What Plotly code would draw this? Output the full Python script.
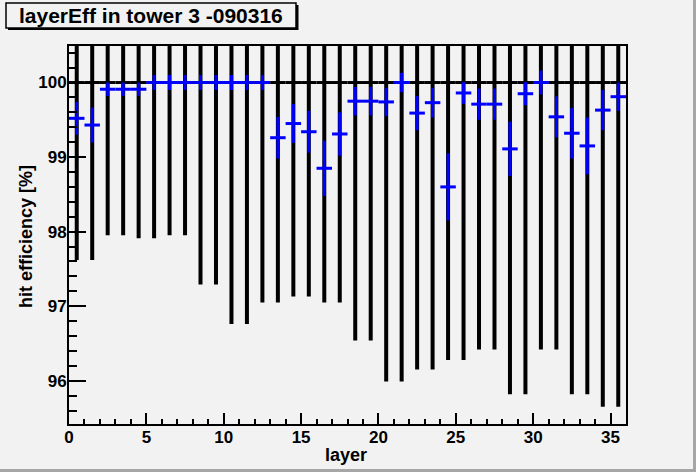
import plotly.graph_objects as go

# layer numbers (bins 0..35), drawn at bin centres
layers = list(range(36))

# black reference histogram: value 100 %, lower end of its error bar
ref_value = [100.0] * 36
ref_low = [97.62, 97.62, 97.95, 97.95, 97.91, 97.91, 97.95, 97.95, 97.29, 97.29,
           96.76, 96.76, 97.05, 97.05, 97.13, 97.13, 97.05, 97.05, 96.54, 96.54,
           95.99, 95.99, 96.15, 96.15, 96.28, 96.28, 96.42, 96.42, 95.82, 95.82,
           96.42, 96.42, 95.82, 95.82, 95.65, 95.65]

# blue measured hit efficiency and its error
eff = [99.52, 99.43, 99.91, 99.91, 99.91, 100.0, 100.0, 100.0, 100.0, 100.0,
       100.0, 100.0, 100.0, 99.26, 99.45, 99.34, 98.85, 99.31, 99.75, 99.75,
       99.74, 100.0, 99.59, 99.73, 98.60, 99.86, 99.71, 99.71, 99.11, 99.85,
       100.0, 99.54, 99.32, 99.15, 99.63, 99.81]
eff_err = [0.22, 0.235, 0.09, 0.09, 0.09, 0.1, 0.1, 0.1, 0.1, 0.1,
           0.1, 0.1, 0.1, 0.28, 0.26, 0.28, 0.37, 0.29, 0.19, 0.19,
           0.19, 0.13, 0.23, 0.2, 0.45, 0.145, 0.21, 0.21, 0.365, 0.155,
           0.16, 0.275, 0.34, 0.38, 0.27, 0.19]

x_centre = [l + 0.5 for l in layers]
ref_err = [v - lo for v, lo in zip(ref_value, ref_low)]
half_bin = [0.5] * len(layers)

BG = "#f2f2f2"
FONT = "Liberation Sans"

fig = go.Figure()

fig.add_trace(go.Scatter(
    x=x_centre, y=ref_value, mode="markers",
    marker=dict(size=1, color="black", opacity=0),
    error_y=dict(type="data", array=ref_err, color="black", thickness=4, width=0),
    error_x=dict(type="data", array=half_bin, color="black", thickness=3, width=0),
    showlegend=False, hoverinfo="skip",
))

fig.add_trace(go.Scatter(
    x=x_centre, y=eff, mode="markers",
    marker=dict(size=1, color="blue", opacity=0),
    error_y=dict(type="data", array=eff_err, color="blue", thickness=3, width=0),
    error_x=dict(type="data", array=half_bin, color="blue", thickness=3, width=0),
    showlegend=False,
))

# plot area in pixels: x 69..626, y 46..424
def px(x):
    return (x - 69) / 557.0

def py(y):
    return (424 - y) / 378.0

shapes = [
    # canvas bevel
    dict(type="rect", xref="paper", yref="paper", x0=px(693), x1=px(697), y0=py(473), y1=py(0),
         fillcolor="#a6a6a6", line=dict(width=0), layer="below"),
    dict(type="rect", xref="paper", yref="paper", x0=px(-1), x1=px(697), y0=py(473), y1=py(469),
         fillcolor="#a6a6a6", line=dict(width=0), layer="below"),
    # title box shadow and box
    dict(type="rect", xref="paper", yref="paper", x0=px(8), x1=px(298.5), y0=py(30), y1=py(5),
         fillcolor="black", line=dict(width=0)),
    dict(type="rect", xref="paper", yref="paper", x0=px(6), x1=px(296), y0=py(28), y1=py(3),
         fillcolor=BG, line=dict(color="black", width=1.5)),
]

fig.update_layout(
    width=696, height=472,
    margin=dict(l=69, r=70, t=46, b=48),
    paper_bgcolor=BG, plot_bgcolor=BG,
    font=dict(family=FONT, size=17, color="black", weight="bold"),
    shapes=shapes,
    annotations=[
        dict(text="layerEff in tower 3 -090316", xref="paper", yref="paper",
             x=px(151), y=py(15.5), xanchor="center", yanchor="middle", showarrow=False,
             font=dict(family=FONT, size=21, color="black", weight="bold")),
        dict(text="hit efficiency [%]", xref="paper", yref="paper",
             x=px(26), y=py(237), xanchor="center", yanchor="middle", textangle=-90,
             showarrow=False, font=dict(family=FONT, size=18, color="black", weight="bold")),
        dict(text="layer", xref="paper", yref="paper",
             x=px(346), y=py(455), xanchor="center", yanchor="middle",
             showarrow=False, font=dict(family=FONT, size=18, color="black", weight="bold")),
    ],
)

fig.update_xaxes(
    range=[0, 36], tick0=0, dtick=5, ticks="inside", ticklen=11, tickwidth=1.5,
    tickcolor="black", showgrid=False, zeroline=False, ticklabelstandoff=-3,
    showline=True, linecolor="black", linewidth=2, mirror=True,
    minor=dict(dtick=1, ticks="inside", ticklen=5, tickwidth=1.5, tickcolor="black"),
)
fig.update_yaxes(
    range=[95.42, 100.49], tick0=96, dtick=1, ticks="inside", ticklen=17, tickwidth=1.5,
    tickcolor="black", showgrid=False, zeroline=False, ticklabelstandoff=-3,
    showline=True, linecolor="black", linewidth=2, mirror=True,
    minor=dict(dtick=0.2, tick0=96, ticks="inside", ticklen=8, tickwidth=1.5, tickcolor="black"),
)

# drop the default page margin so the figure sits at the window origin
fig.write_html("out.html", config={"displayModeBar": False},
               post_script="document.body.style.margin='0';document.body.style.overflow='hidden';")
